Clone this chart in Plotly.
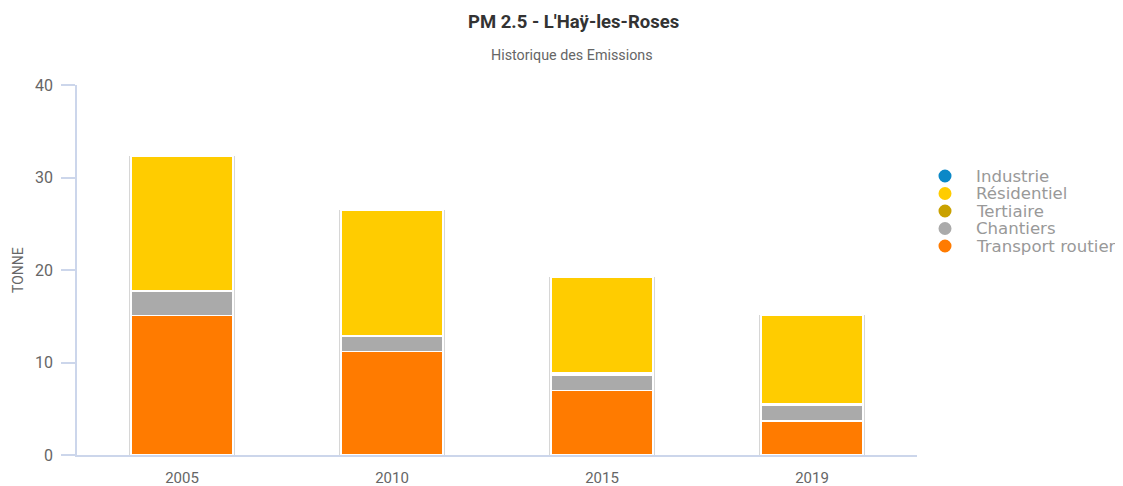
import plotly.graph_objects as go

years = ["2005", "2010", "2015", "2019"]
transport = [15.1, 11.2, 7.0, 3.7]
chantiers = [2.6, 1.6, 1.65, 1.7]
tertiaire = [0.1, 0.1, 0.2, 0.1]
residentiel = [14.5, 13.6, 10.35, 9.6]
industrie = [0.0, 0.0, 0.0, 0.0]

series = [
    ("Transport routier", transport, "#ff7b00"),
    ("Chantiers", chantiers, "#aaaaaa"),
    ("Tertiaire", tertiaire, "#c9a100"),
    ("Résidentiel", residentiel, "#ffcc00"),
    ("Industrie", industrie, "#0b88c7"),
]
legend_order = ["Industrie", "Résidentiel", "Tertiaire", "Chantiers", "Transport routier"]
colors = {n: c for n, _, c in series}
totals = [sum(v) for v in zip(transport, chantiers, tertiaire, residentiel, industrie)]

# page offset caused by default body margin (8px)
OFF = 8
W, H = 1123 - OFF, 486 - OFF
L, R, T, B = 77 - OFF, 917 - OFF, 85 - OFF, 455 - OFF
pw, ph = R - L, B - T

def px_x(x):  # page pixel -> paper
    return (x - OFF - L) / pw

def px_y(y):
    return (B - (y - OFF)) / ph

bw = 0.486
fig = go.Figure()
# light outline behind each stacked column
fig.add_trace(go.Bar(
    x=years, y=totals, width=bw + 3 / 210, marker=dict(color="#d6d6d6", line=dict(width=0)),
    showlegend=False, hoverinfo="skip", xaxis="x", yaxis="y",
))
for name, vals, col in series:
    fig.add_trace(go.Bar(
        x=years, y=vals, name=name, width=bw,
        marker=dict(color=col, line=dict(color="white", width=1.5)),
        showlegend=False, xaxis="x2", yaxis="y",
    ))

# manual legend (circles + labels)
leg_y0 = 176
leg_step = 17.5
shapes = []
annotations = []
for i, name in enumerate(legend_order):
    yy = px_y(leg_y0 + i * leg_step)
    shapes.append(dict(
        type="circle", xref="paper", yref="paper", xsizemode="pixel", ysizemode="pixel",
        xanchor=px_x(945), yanchor=yy, x0=-6.5, x1=6.5, y0=-6.5, y1=6.5,
        fillcolor=colors[name], line=dict(width=0),
    ))
    annotations.append(dict(
        text=name, xref="paper", yref="paper", x=px_x(974), y=yy,
        xanchor="left", yanchor="middle", showarrow=False,
        font=dict(family="DejaVu Sans", size=16.6, color="#999999"),
    ))

annotations += [
    dict(text="<b>PM 2.5 - L'Haÿ-les-Roses</b>", xref="paper", yref="paper",
         x=px_x(573), y=px_y(22), xanchor="center", yanchor="middle", showarrow=False,
         font=dict(family="Roboto", size=18.5, color="#333333")),
    dict(text="Historique des Emissions", xref="paper", yref="paper",
         x=px_x(572), y=px_y(55), xanchor="center", yanchor="middle", showarrow=False,
         font=dict(family="Roboto", size=14.3, color="#666666")),
    dict(text="TONNE", xref="paper", yref="paper", textangle=-90,
         x=px_x(18), y=px_y(270), xanchor="center", yanchor="middle", showarrow=False,
         font=dict(family="Roboto", size=14, color="#666666")),
]

fig.update_layout(
    width=W, height=H,
    margin=dict(l=L, r=W - R, t=T, b=H - B, autoexpand=False),
    paper_bgcolor="white", plot_bgcolor="white",
    barmode="stack",
    showlegend=False,
    shapes=shapes, annotations=annotations,
    font=dict(family="Roboto", color="#666666"),
    xaxis=dict(
        type="category", range=[-0.5, 3.5], automargin=False,
        showline=True, linecolor="#ccd6eb", linewidth=1.5, showgrid=False,
        ticks="outside", ticklen=8, tickcolor="rgba(0,0,0,0)",
        tickfont=dict(size=15, color="#666666"),
    ),
    xaxis2=dict(
        type="category", range=[-0.5, 3.5], overlaying="x", matches="x",
        showticklabels=False, showline=False, showgrid=False, automargin=False,
    ),
    yaxis=dict(
        range=[0, 40], tickvals=[0, 10, 20, 30, 40], showgrid=False, zeroline=False,
        automargin=False,
        showline=True, linecolor="#ccd6eb", linewidth=1.5,
        ticks="outside", ticklen=14, tickcolor="#ccd6eb", tickwidth=1.5,
        ticklabelstandoff=5,
        tickfont=dict(size=16, color="#666666"),
    ),
)
fig.write_html("out.html")
